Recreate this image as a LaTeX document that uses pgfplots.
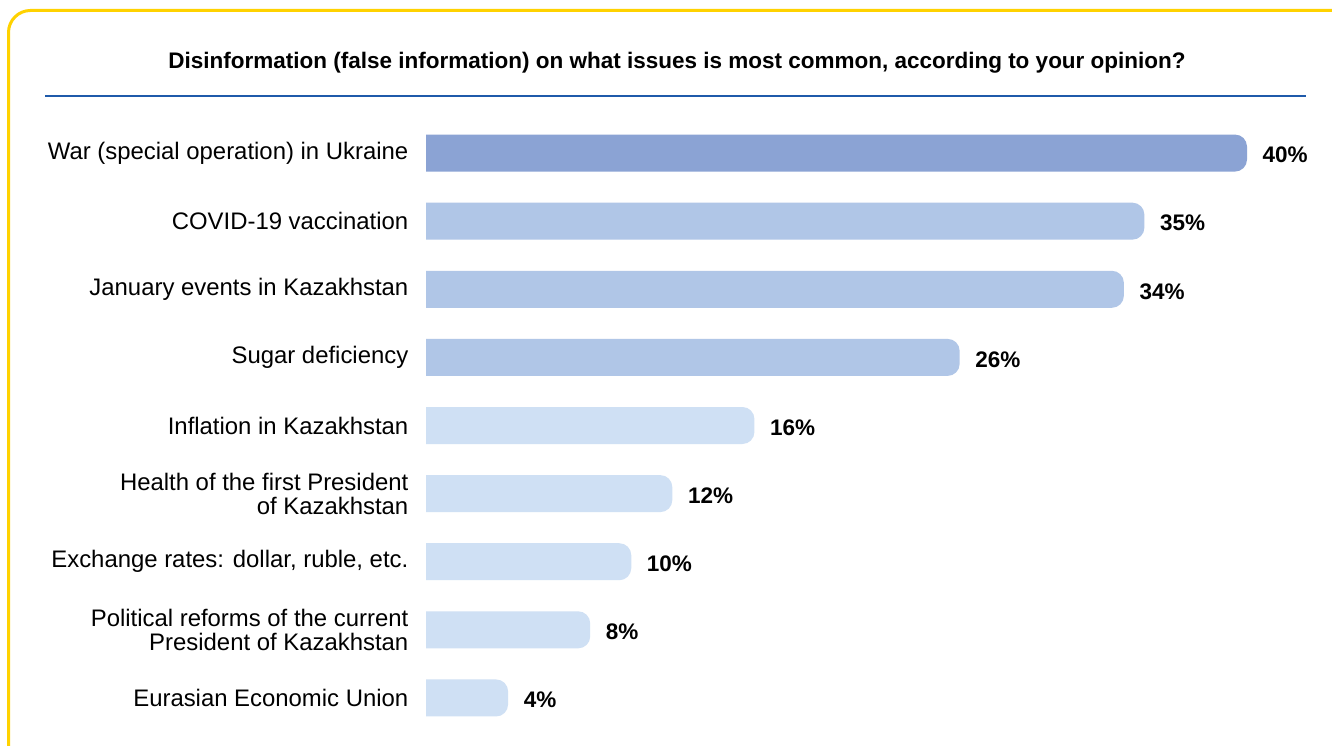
\documentclass[border=0pt]{standalone}
\usepackage{pgfplots}
\usepackage{pgfplotstable}
\pgfplotsset{compat=1.18}
\usepackage{fontspec}
\setmainfont{Liberation Sans}
\definecolor{barA}{HTML}{8BA3D4}
\definecolor{barB}{HTML}{B0C6E7}
\definecolor{barC}{HTML}{CFE0F4}
\definecolor{frameY}{HTML}{FFD200}
\definecolor{lineB}{HTML}{1F5AAA}

\pgfplotstableread{
y v
0 40
}\tA
\pgfplotstableread{
y v
1 35
2 34
3 26
}\tB
\pgfplotstableread{
y v
4 16
5 12
6 10
7 8
8 4
}\tC

\begin{document}
\begin{tikzpicture}
\useasboundingbox (0,0) rectangle (13.32,7.46);
\clip (0,0) rectangle (13.32,7.46);
\fill[white] (0,0) rectangle (13.32,7.46);
\draw[frameY, line width=0.03cm, rounded corners=0.22cm] (0.085,-1) rectangle (14,7.355);
\node[font=\fontsize{6.4}{7.5}\selectfont\bfseries] at (6.77,6.83) {Disinformation (false information) on what issues is most common, according to your opinion?};
\draw[lineB, line width=0.025cm] (0.45,6.50) -- (13.06,6.50);
\begin{axis}[
  at={(4.26cm,0.14cm)}, anchor=south west,
  scale only axis, width=9.133625cm, height=6.13cm,
  xmin=0, xmax=44.5, ymin=-0.5, ymax=8.5, y dir=reverse,
  axis line style={draw=none}, major tick length=0pt,
  xtick=\empty, ytick={0,...,8},
  yticklabels={War (special operation) in Ukraine, COVID-19 vaccination, January events in Kazakhstan, Sugar deficiency, Inflation in Kazakhstan, {Health of the first President\\of Kazakhstan}, {Exchange rates: dollar, ruble, etc.}, {Political reforms of the current\\President of Kazakhstan}, Eurasian Economic Union},
  yticklabel style={font=\fontsize{6.8}{6.9}\selectfont, align=right, inner sep=0pt, xshift=-0.17cm},
  clip=true,
  /pgf/number format/assume math mode=true,
  every node near coord/.append style={anchor=west, inner sep=0pt, xshift=0.15cm, yshift=-0.02cm, font=\fontsize{6.4}{7}\selectfont\bfseries, text=black},
  mybar/.style={xbar, bar shift=0pt, bar width=0.37cm, draw=none, rounded corners=0.12cm, xshift=-0.20525cm,
    point meta=\thisrow{v}, nodes near coords={\pgfmathprintnumber{\pgfplotspointmeta}\%}, nodes near coords align=horizontal},
]
\addplot[mybar, fill=barA] table[x expr=\thisrow{v}+1, y=y]{\tA};
\addplot[mybar, fill=barB] table[x expr=\thisrow{v}+1, y=y]{\tB};
\addplot[mybar, fill=barC] table[x expr=\thisrow{v}+1, y=y]{\tC};
\end{axis}
\end{tikzpicture}
\end{document}
